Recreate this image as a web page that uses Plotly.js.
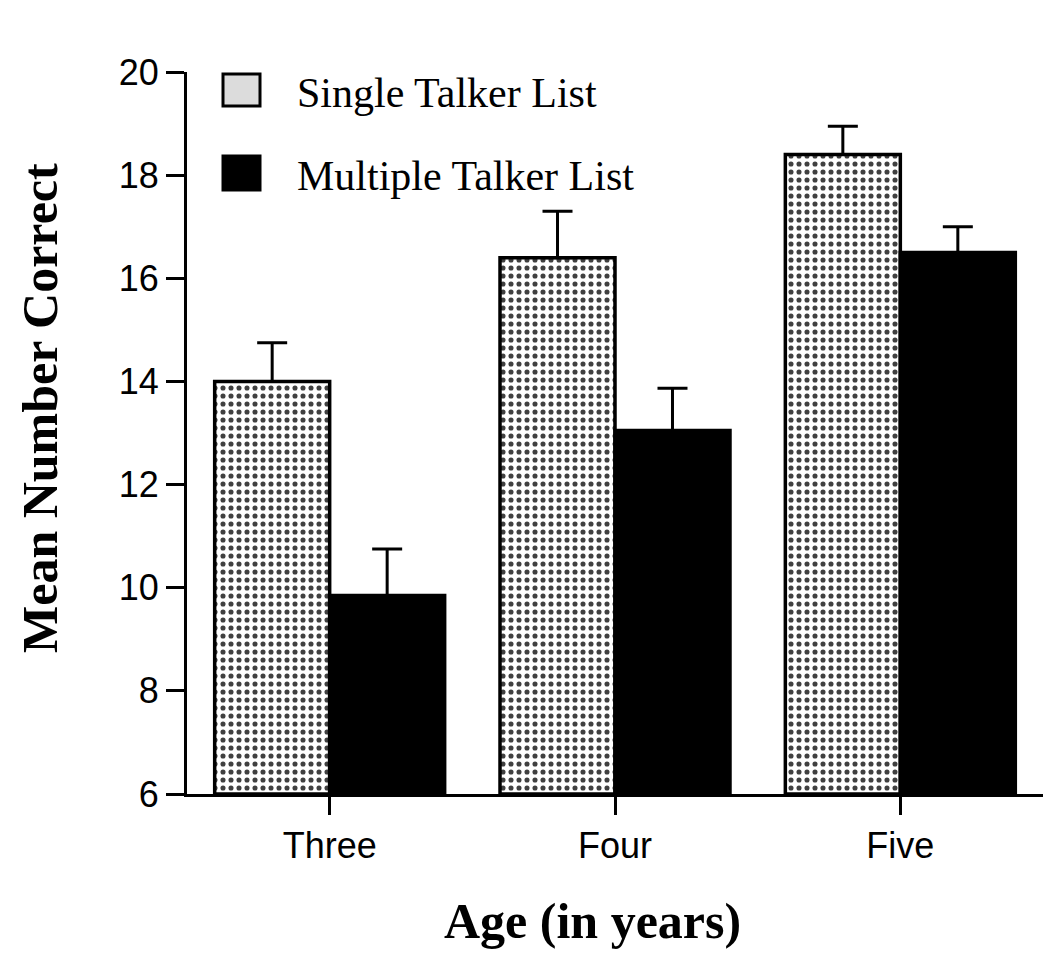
<!DOCTYPE html>
<html>
<head>
<meta charset="utf-8">
<script src="https://cdn.plot.ly/plotly-3.0.1.min.js"></script>
<style>html,body{margin:0;padding:0;background:#fff;}#chart{width:1050px;height:954px;}</style>
</head>
<body>
<div id="chart"></div>
<script>
const ages = ["Three", "Four", "Five"];
const singleMeans = [14.0, 16.4, 18.4];
const singleErr = [0.75, 0.9, 0.55];
const multipleMeans = [9.85, 13.05, 16.5];
const multipleErr = [0.9, 0.82, 0.5];
const seriesNames = ["Single Talker List", "Multiple Talker List"];
const yTicks = [6, 8, 10, 12, 14, 16, 18, 20];
const xTitle = "Age (in years)";
const yTitle = "Mean Number Correct";

const zeros = ages.map(() => 0);
const axisBase = 6;

const traces = [
  {
    type: "bar", name: seriesNames[0], x: ages, y: singleMeans.map(v => v - axisBase), base: axisBase,
    marker: {
      color: "#ffffff",
      pattern: {shape: ".", size: 8, solidity: 0.32, fgcolor: "#404040", bgcolor: "#ffffff", fillmode: "replace"},
      line: {color: "#000", width: 3.5}
    },
    error_y: {type: "data", symmetric: false, array: singleErr, arrayminus: zeros, color: "#000", thickness: 3, width: 15},
    showlegend: false
  },
  {
    type: "bar", name: seriesNames[1], x: ages, y: multipleMeans.map(v => v - axisBase), base: axisBase,
    marker: {color: "#000", line: {color: "#000", width: 3.5}},
    error_y: {type: "data", symmetric: false, array: multipleErr, arrayminus: zeros, color: "#000", thickness: 3, width: 15},
    showlegend: false
  }
];

const serif = "Liberation Serif, Times New Roman, serif";
const sans = "Liberation Sans, Arial, sans-serif";

const W = 1050, H = 954, L = 187, R = 7, T = 72, B = 160;
const pw = W - L - R, ph = H - T - B;
const px = x => (x - L) / pw;
const py = y => (H - B - y) / ph;

const layout = {
  width: W, height: H,
  margin: {l: L, r: R, t: T, b: B},
  paper_bgcolor: "#fff", plot_bgcolor: "#fff",
  barmode: "group", bargap: 0.194, bargroupgap: 0,
  showlegend: false,
  xaxis: {
    type: "category", range: [-0.5, 2.5],
    showline: true, linecolor: "#000", linewidth: 3,
    ticks: "outside", ticklen: 18, tickwidth: 3, tickcolor: "#000",
    tickfont: {family: sans, size: 36, color: "#000"},
    showgrid: false, zeroline: false, fixedrange: true
  },
  yaxis: {
    range: [6, 20], tickvals: yTicks, ticktext: yTicks.map(String),
    showline: true, linecolor: "#000", linewidth: 3,
    ticks: "outside", ticklen: 18, tickwidth: 3, tickcolor: "#000",
    tickfont: {family: sans, size: 36, color: "#000"},
    showgrid: false, zeroline: false, fixedrange: true
  },
  shapes: [
    {type: "rect", xref: "paper", yref: "paper", x0: px(223), x1: px(260), y0: py(106), y1: py(74),
     fillcolor: "#dcdcdc", line: {color: "#000", width: 3}},
    {type: "rect", xref: "paper", yref: "paper", x0: px(223), x1: px(260), y0: py(190), y1: py(156),
     fillcolor: "#000", line: {color: "#000", width: 3}}
  ],
  annotations: [
    {xref: "paper", yref: "paper", x: px(295), y: py(93), xanchor: "left", yanchor: "middle", showarrow: false,
     text: seriesNames[0], font: {family: serif, size: 42, color: "#000"}},
    {xref: "paper", yref: "paper", x: px(295), y: py(176), xanchor: "left", yanchor: "middle", showarrow: false,
     text: seriesNames[1], font: {family: serif, size: 42, color: "#000"}},
    {xref: "paper", yref: "paper", x: px(592), y: py(921), xanchor: "center", yanchor: "middle", showarrow: false,
     text: "<b>" + xTitle + "</b>", font: {family: serif, size: 50, color: "#000"}},
    {xref: "paper", yref: "paper", x: px(40), y: py(408), xanchor: "center", yanchor: "middle", showarrow: false,
     textangle: -90, text: "<b>" + yTitle + "</b>", font: {family: serif, size: 50, color: "#000"}}
  ]
};

Plotly.newPlot("chart", traces, layout, {displayModeBar: false, staticPlot: true});
</script>
</body>
</html>
